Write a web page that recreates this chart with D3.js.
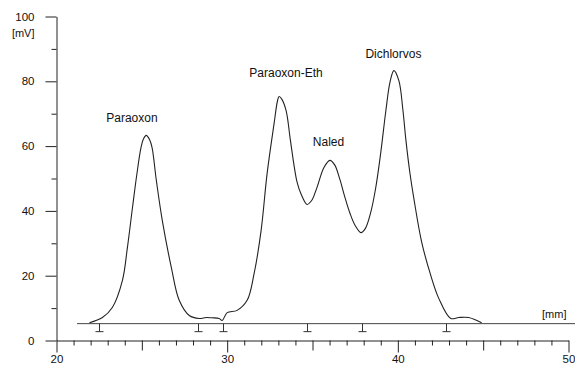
<!DOCTYPE html>
<html>
<head>
<meta charset="utf-8">
<script src="https://cdn.jsdelivr.net/npm/d3@7"></script>
<style>
  body { margin: 0; background: #fff; }
  svg { display: block; }
  text { font-family: "Liberation Sans", Arial, sans-serif; fill: #111; }
</style>
</head>
<body>
<div id="chart"></div>
<script>
// retention (mm) and detector signal (mV)
const retention = [21.93, 22.69, 23.27, 23.86, 24.15, 24.44, 24.7, 24.95, 25.1, 25.26, 25.45, 25.6, 25.85, 26.2, 26.73, 27.19, 27.78,
  28.36, 28.77, 29.1, 29.53, 29.71, 30.0, 30.58, 31.17, 31.58, 31.99, 32.34, 32.75, 32.95, 33.04, 33.2, 33.45, 33.7, 33.92, 34.1,
  34.33, 34.68, 34.95, 35.26, 35.67, 36.02, 36.3, 36.6, 36.9, 37.2, 37.5, 37.84, 38.1, 38.4, 38.7, 39.0, 39.3, 39.55, 39.77, 40.06,
  40.3, 40.47, 40.7, 40.94, 41.4, 41.93, 42.4, 43.1, 43.57, 44.15, 44.91];
const signal = [5.5, 7.1, 10.2, 18.5, 28.5, 40.5, 51, 59.5, 62.3, 63.3, 62, 59.5, 49.4, 37, 22.5, 12.4, 7.7,
  6.8, 7.1, 7.0, 6.8, 6.2, 8.6, 9.3, 12.4, 20.7, 34, 51.5, 67, 74, 75.3, 74.5, 71, 62, 54, 48.8,
  45.2, 42, 43.2, 47.2, 53.4, 55.6, 54.2, 49.8, 44.2, 39.2, 35.5, 33.3, 34.6, 39.3, 47, 58, 71, 80, 83.3, 80.2,
  71, 62, 52, 43.8, 30.3, 20.1, 13.0, 6.8, 7.1, 7.1, 5.5];

const peakNames = ["Paraoxon", "Paraoxon-Eth", "Naled", "Dichlorvos"];
const peakLabelX = [24.42, 33.45, 35.94, 39.74];
const peakLabelY = [67.3, 81.2, 59.9, 87.3];

const baselineValue = 5.2;
const baselineRange = [21.2, 50.4];
const integrationMarks = [22.51, 28.30, 29.77, 34.68, 37.89, 42.81];

const xTicks = d3.range(20, 51, 1);
const xLabels = [20, 30, 40, 50];
const yTicks = d3.range(0, 101, 10);
const yLabels = [0, 20, 40, 60, 80, 100];

const width = 575, height = 366;

const x = d3.scaleLinear().domain([20, 50]).range([56.5, 568.5]);
const y = d3.scaleLinear().domain([0, 100]).range([340.5, 16.5]);

const svg = d3.select("#chart").append("svg")
  .attr("width", width)
  .attr("height", height);

// x axis, ticks hanging below the line
const xAxis = svg.append("g")
  .attr("transform", `translate(0,${y(0)})`)
  .call(d3.axisBottom(x).tickValues(xTicks).tickSizeOuter(0)
    .tickFormat(d => xLabels.includes(d) ? d : ""));
xAxis.select(".domain").attr("stroke", "#222");
xAxis.selectAll(".tick line")
  .attr("stroke", "#222")
  .attr("y2", d => d % 10 === 0 ? 12 : d % 5 === 0 ? 10 : 5);
xAxis.selectAll(".tick text")
  .attr("y", 14)
  .attr("font-size", 11.5)
  .attr("font-family", null);

// y axis, ticks to the left
const yAxis = svg.append("g")
  .attr("transform", `translate(${x(20)},0)`)
  .call(d3.axisLeft(y).tickValues(yTicks).tickSizeOuter(0)
    .tickFormat(d => yLabels.includes(d) ? d : ""));
yAxis.select(".domain").attr("stroke", "#222");
yAxis.selectAll(".tick line")
  .attr("stroke", "#222")
  .attr("x2", d => d % 20 === 0 ? -11 : -5);
yAxis.selectAll(".tick text")
  .attr("x", -22)
  .attr("font-size", 11.5)
  .attr("font-family", null);

svg.append("text")
  .attr("x", x(20) - 22)
  .attr("y", y(100) + 20)
  .attr("text-anchor", "end")
  .attr("font-size", 11)
  .text("[mV]");

// integration baseline
svg.append("line")
  .attr("x1", x(baselineRange[0]))
  .attr("x2", x(baselineRange[1]))
  .attr("y1", y(baselineValue))
  .attr("y2", y(baselineValue))
  .attr("stroke", "#444")
  .attr("stroke-width", 1);

svg.append("text")
  .attr("x", x(50) - 2)
  .attr("y", y(baselineValue) - 6)
  .attr("text-anchor", "end")
  .attr("font-size", 11)
  .text("[mm]");

// peak start/stop marks
svg.append("g")
  .attr("stroke", "#333")
  .attr("fill", "none")
  .selectAll("path")
  .data(integrationMarks)
  .join("path")
  .attr("d", d => {
    const px = Math.round(x(d)) + 0.5, py = y(baselineValue);
    return `M${px},${py}V${py + 8}M${px - 4},${py + 8}H${px + 4}`;
  });

// chromatogram trace
const points = retention.map((r, i) => [r, signal[i]]);
svg.append("path")
  .datum(points)
  .attr("fill", "none")
  .attr("stroke", "#222")
  .attr("stroke-width", 1.1)
  .attr("d", d3.line()
    .x(d => x(d[0]))
    .y(d => y(d[1]))
    .curve(d3.curveCatmullRom.alpha(0.5)));

// peak names
svg.append("g")
  .selectAll("text")
  .data(peakNames)
  .join("text")
  .attr("x", (d, i) => x(peakLabelX[i]))
  .attr("y", (d, i) => y(peakLabelY[i]))
  .attr("text-anchor", "middle")
  .attr("font-size", 12)
  .text(d => d);
</script>
</body>
</html>
